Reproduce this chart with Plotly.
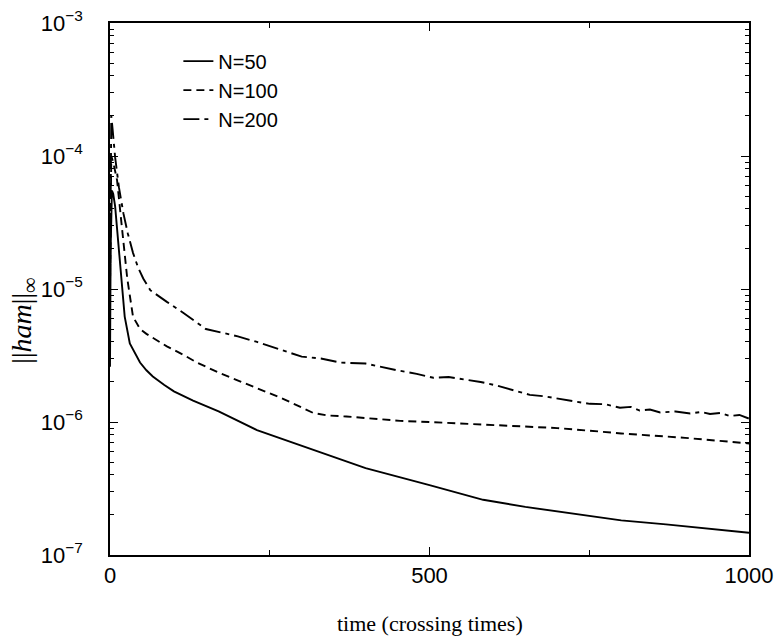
import plotly.graph_objects as go

# N=50 (solid)
t50 = [0, 1, 3, 5, 8, 12, 16, 18, 23, 31, 40, 47, 57, 67, 85, 100, 130, 170, 230, 300, 400, 500, 584, 650, 736, 800, 870, 934, 1000]
v50 = [2.6e-6, 2.0e-5, 5.5e-5, 5.2e-5, 4.2e-5, 2.5e-5, 1.5e-5, 1.1e-5, 6.2e-6, 3.9e-6, 3.2e-6, 2.8e-6, 2.45e-6, 2.2e-6, 1.9e-6, 1.7e-6, 1.45e-6, 1.2e-6, 8.7e-7, 6.6e-7, 4.5e-7, 3.35e-7, 2.6e-7, 2.3e-7, 2.0e-7, 1.82e-7, 1.7e-7, 1.58e-7, 1.47e-7]

# N=100 (dashed)
t100 = [0, 1, 2, 5, 11, 19, 27, 36, 47, 57, 73, 89, 115, 136, 170, 214, 270, 318, 340, 370, 423, 454, 500, 600, 700, 751, 800, 900, 1000]
v100 = [1.0e-5, 6.0e-5, 1.0e-4, 9.0e-5, 6.6e-5, 2.8e-5, 1.2e-5, 6.2e-6, 5.0e-6, 4.6e-6, 4.1e-6, 3.7e-6, 3.2e-6, 2.8e-6, 2.35e-6, 1.94e-6, 1.5e-6, 1.17e-6, 1.12e-6, 1.1e-6, 1.05e-6, 1.02e-6, 1.0e-6, 9.5e-7, 9.0e-7, 8.6e-7, 8.2e-7, 7.6e-7, 6.9e-7]

# N=200 (dash-dot)
t200 = [0, 1, 2, 4, 8, 14, 21, 28, 36, 44, 52, 63, 75, 89, 115, 136, 150, 175, 200, 230, 266, 300, 330, 360, 400, 430, 449, 480, 506, 530, 558, 580, 605, 630, 657, 680, 704, 730, 751, 775, 798, 815, 829, 845, 861, 885, 908, 925, 939, 955, 970, 985, 1000]
v200 = [1.0e-5, 1.2e-4, 2.0e-4, 1.6e-4, 9.8e-5, 5.8e-5, 3.7e-5, 2.6e-5, 1.87e-5, 1.45e-5, 1.2e-5, 9.8e-6, 8.9e-6, 8.0e-6, 6.6e-6, 5.6e-6, 5.0e-6, 4.7e-6, 4.4e-6, 4.0e-6, 3.5e-6, 3.1e-6, 3.0e-6, 2.8e-6, 2.75e-6, 2.55e-6, 2.45e-6, 2.3e-6, 2.15e-6, 2.18e-6, 2.08e-6, 2.0e-6, 1.88e-6, 1.75e-6, 1.6e-6, 1.56e-6, 1.5e-6, 1.42e-6, 1.37e-6, 1.36e-6, 1.28e-6, 1.3e-6, 1.22e-6, 1.24e-6, 1.18e-6, 1.2e-6, 1.16e-6, 1.19e-6, 1.15e-6, 1.17e-6, 1.11e-6, 1.13e-6, 1.06e-6]

series_names = ["N=50", "N=100", "N=200"]

y_tickvals = [1e-7, 1e-6, 1e-5, 1e-4, 1e-3]
y_ticktext = ["10<sup>−7</sup>", "10<sup>−6</sup>", "10<sup>−5</sup>", "10<sup>−4</sup>", "10<sup>−3</sup>"]
x_tickvals = [0, 500, 1000]
x_ticktext = ["0", "500", "1000"]

fig = go.Figure()
styles = [("solid", 1.9), ("8px,5px", 1.9), ("16px,5px,4px,5px", 1.9)]
for (t, v, name, (dash, w)) in zip([t50, t100, t200], [v50, v100, v200], series_names, styles):
    fig.add_trace(go.Scatter(x=t, y=v, name=name, mode="lines",
                             line=dict(color="black", width=w, dash=dash)))

sans = "Liberation Sans, Arial, sans-serif"
serif = "Liberation Serif, DejaVu Serif, serif"

fig.update_layout(
    width=776, height=637,
    margin=dict(l=110, r=27, t=23, b=82, autoexpand=False),
    paper_bgcolor="white", plot_bgcolor="white",
    font=dict(family=sans, size=20, color="black"),
    showlegend=True,
    legend=dict(x=0.107, y=0.965, xanchor="left", yanchor="top",
                bgcolor="rgba(0,0,0,0)", font=dict(size=20, family=sans),
                tracegroupgap=0),
    xaxis=dict(range=[0, 1000], tickvals=x_tickvals, ticktext=x_ticktext,
               ticks="inside", ticklen=8, tickwidth=1, tickcolor="black",
               showline=True, linecolor="black", linewidth=1.5, mirror="ticks",
               showgrid=False, zeroline=False, automargin=False,
               minor=dict(ticks="inside", ticklen=5, dtick=250, tickcolor="black", showgrid=False),
               tickfont=dict(size=22, family=sans)),
    yaxis=dict(type="log", range=[-7, -3], tickvals=y_tickvals, ticktext=y_ticktext,
               ticks="inside", ticklen=8, tickwidth=1, tickcolor="black",
               showline=True, linecolor="black", linewidth=1.5, mirror="ticks",
               showgrid=False, zeroline=False, ticklabelstandoff=21, automargin=False,
               minor=dict(ticks="inside", ticklen=4, tickcolor="black", showgrid=False, dtick="D1"),
               tickfont=dict(size=22, family=sans)),
    annotations=[
        dict(text="time (crossing times)", xref="paper", yref="paper", x=0.5, y=-0.128,
             xanchor="center", yanchor="middle", showarrow=False,
             font=dict(family=serif, size=22)),
        dict(text="||<i>ham</i>||<sub><span style='font-size:22px'>∞</span></sub>",
             xref="paper", yref="paper", x=-0.135, y=0.44,
             xanchor="center", yanchor="middle", showarrow=False, textangle=-90,
             font=dict(family=serif, size=28)),
    ],
)

fig.write_html("out.html", config={"displayModeBar": False},
               post_script="document.body.style.margin='0';document.body.style.padding='0';")
